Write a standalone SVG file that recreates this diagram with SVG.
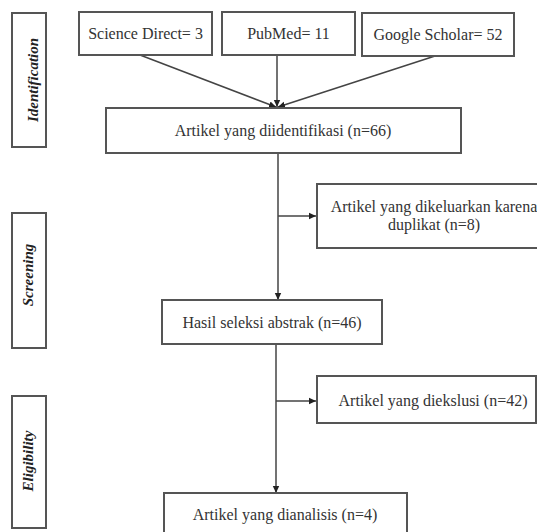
<svg xmlns="http://www.w3.org/2000/svg" width="537" height="532" viewBox="0 0 537 532">
<defs>
<marker id="ah" markerWidth="8" markerHeight="8" refX="7" refY="4" orient="auto" markerUnits="userSpaceOnUse">
<path d="M0,0.8 L7,4 L0,7.2 Z" fill="#222"/>
</marker>
</defs>
<style>
.box{fill:#fff;stroke:#555;stroke-width:2}
.t{font-family:"Liberation Serif","Times New Roman",serif;font-size:16px;fill:#333;text-anchor:middle}
.side{font-family:"Liberation Serif","Times New Roman",serif;font-size:15px;font-weight:bold;font-style:italic;fill:#222;text-anchor:middle}
.ln{stroke:#444;stroke-width:1.5;fill:none}
</style>
<rect width="537" height="532" fill="#fff"/>
<g id="connectors">
<line class="ln" x1="140" y1="55" x2="276" y2="107" marker-end="url(#ah)"/>
<line class="ln" x1="277" y1="55" x2="277" y2="107" marker-end="url(#ah)"/>
<line class="ln" x1="435" y1="56" x2="278" y2="107" marker-end="url(#ah)"/>
<line class="ln" x1="278" y1="153" x2="278" y2="300" marker-end="url(#ah)"/>
<line class="ln" x1="278" y1="216" x2="316" y2="216" marker-end="url(#ah)"/>
<line class="ln" x1="276" y1="344" x2="276" y2="493" marker-end="url(#ah)"/>
<line class="ln" x1="276" y1="401" x2="316" y2="401" marker-end="url(#ah)"/>
</g>
<g id="identification"><rect class="box" x="12" y="13" width="34" height="134"/><text class="side" transform="translate(38,80) rotate(-90)">Identification</text></g>
<g id="screening"><rect class="box" x="12" y="213" width="34" height="135"/><text class="side" transform="translate(33,275) rotate(-90)">Screening</text></g>
<g id="eligibility"><rect class="box" x="12" y="396" width="34" height="132"/><text class="side" transform="translate(33,461) rotate(-90)">Eligibility</text></g>
<g id="sciencedirect"><rect class="box" x="79" y="12" width="133" height="43"/><text class="t" x="145.5" y="39">Science Direct= 3</text></g>
<g id="pubmed"><rect class="box" x="222" y="12" width="133" height="43"/><text class="t" x="288.5" y="39">PubMed= 11</text></g>
<g id="googlescholar"><rect class="box" x="362" y="13" width="152" height="43"/><text class="t" x="438" y="40">Google Scholar= 52</text></g>
<g id="identified"><rect class="box" x="106" y="108" width="355" height="45"/><text class="t" x="283" y="136">Artikel yang diidentifikasi (n=66)</text></g>
<g id="duplicates"><rect class="box" x="317" y="184" width="224" height="64"/><text class="t" x="434" y="212">Artikel yang dikeluarkan karena</text><text class="t" x="434" y="230">duplikat (n=8)</text></g>
<g id="abstract"><rect class="box" x="162" y="300" width="220" height="44"/><text class="t" x="272" y="328">Hasil seleksi abstrak (n=46)</text></g>
<g id="excluded"><rect class="box" x="317" y="376" width="219" height="47"/><text class="t" x="433" y="406">Artikel yang diekslusi (n=42)</text></g>
<g id="analyzed"><rect class="box" x="164" y="493" width="243" height="40"/><text class="t" x="285" y="520">Artikel yang dianalisis (n=4)</text></g>
</svg>
